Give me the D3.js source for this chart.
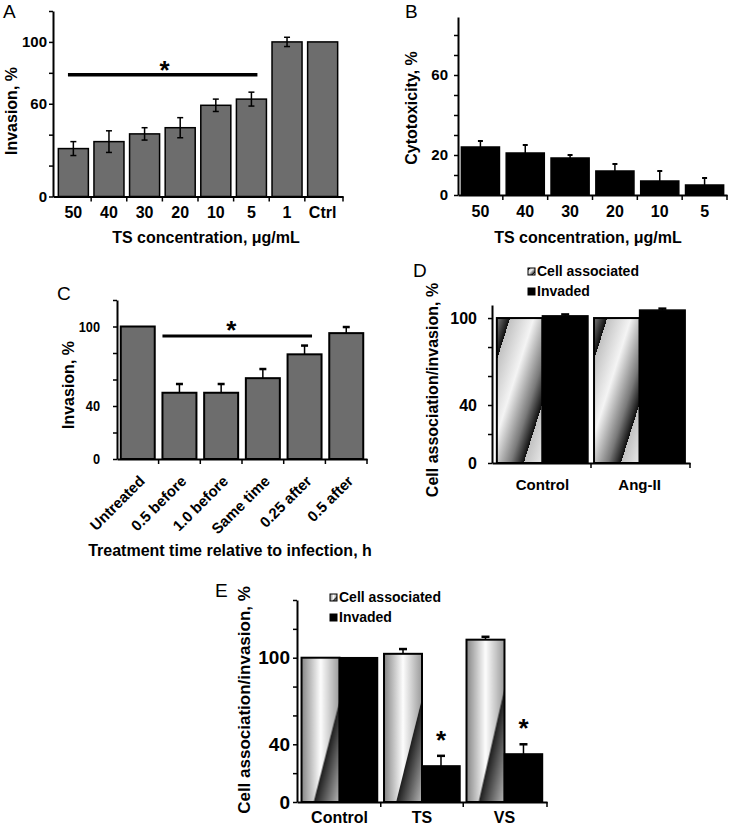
<!DOCTYPE html>
<html><head><meta charset="utf-8">
<script src="https://cdn.jsdelivr.net/npm/d3@7"></script>
<style>body{margin:0;background:#fff}</style>
</head><body>
<svg id="chart" width="735" height="830"></svg>
<script>
// ---------------- DATA ----------------
const aCats = ["50","40","30","20","10","5","1","Ctrl"];
const aVals = [31, 35.5, 40.5, 44.5, 59, 63, 100, 100];
const aErr  = [4.5, 7, 4, 6.5, 4, 4.5, 3, 0];
const aTicks = [0,20,40,60,80,100,120];
const aTickLabels = [0,60,100];
const aSig = {from:"50", to:"5", level:78.7};

const bCats = ["50","40","30","20","10","5"];
const bVals = [24, 21, 18.5, 12, 7, 5];
const bErr  = [3, 4, 1.5, 3.5, 5, 3.5];
const bTicks = [0,10,20,30,40,50,60,70,80];
const bTickLabels = [0,20,60];

const cCats = ["Untreated","0.5 before","1.0 before","Same time","0.25 after","0.5 after"];
const cVals = [100, 50, 50, 61, 79, 95];
const cErr  = [0, 6.6, 6.6, 6.9, 6.6, 4.6];
const cTicks = [0,20,40,60,80,100,120];
const cTickLabels = [0,40,100];
const cSig = {from:"0.5 before", to:"0.25 after", level:92.8};

const seriesNames = ["Cell associated","Invaded"];

const dCats = ["Control","Ang-II"];
const dCell = [100, 100];
const dCellErr = [0, 0];
const dInv  = [101.5, 105.5];
const dInvErr = [1, 1];
const dTicks = [0,20,40,60,80,100];
const dTickLabels = [0,40,100];

const eCats = ["Control","TS","VS"];
const eCell = [100, 102.7, 112.5];
const eCellErr = [0, 3.3, 2];
const eInv  = [100, 25, 33.3];
const eInvErr = [0, 7, 6.7];
const eTicks = [0,20,40,60,80,100,120,140];
const eTickLabels = [0,40,100];
const eSig = ["TS","VS"];

// ---------------- SETUP ----------------
const FONT = '"Liberation Sans", Arial, Helvetica, sans-serif';
const svg = d3.select("#chart");
svg.append("rect").attr("width",735).attr("height",830).attr("fill","#fff");
const defs = svg.append("defs");

// striped gradient for panel D
const gD = defs.append("linearGradient").attr("id","gD")
  .attr("x1",0.145).attr("y1",0.145).attr("x2",0.795).attr("y2",0.795)
  .attr("spreadMethod","repeat");
[[0,"#c2c2c2"],[0.4,"#f4f4f4"],[0.78,"#7a7a7a"],[1,"#0e0e0e"]]
  .forEach(([o,c]) => gD.append("stop").attr("offset",o).attr("stop-color",c));

// panel E pattern (horizontal gradient + diagonal dark wedge)
const eL = defs.append("linearGradient").attr("id","eL").attr("x1",0).attr("y1",0).attr("x2",1).attr("y2",0);
[[0,"#858585"],[0.5,"#fdfdfd"],[1,"#9a9a9a"]].forEach(([o,c]) => eL.append("stop").attr("offset",o).attr("stop-color",c));
const eR = defs.append("linearGradient").attr("id","eR").attr("x1",0.5).attr("y1",0.5).attr("x2",1).attr("y2",1);
[[0,"#1c1c1c"],[1,"#b8b8b8"]].forEach(([o,c]) => eR.append("stop").attr("offset",o).attr("stop-color",c));
const pE = defs.append("pattern").attr("id","pE").attr("patternUnits","objectBoundingBox")
  .attr("patternContentUnits","objectBoundingBox").attr("width",1).attr("height",1);
pE.append("polygon").attr("points","0,0 1,0 1,0.3 0.32,1 0,1").attr("fill","url(#eL)");
pE.append("polygon").attr("points","1,0.3 1,1 0.32,1").attr("fill","url(#eR)");

function txt(x, y, s, size, opts = {}) {
  const t = svg.append("text").attr("x",x).attr("y",y).text(s)
    .attr("font-family",FONT).attr("font-size",size)
    .attr("font-weight", opts.weight || "bold")
    .attr("text-anchor", opts.anchor || "middle").attr("fill","#000");
  if (opts.rotate) t.attr("transform",`rotate(${opts.rotate},${x},${y})`);
  return t;
}
function star(cx, cy) { // cy = visual centre of the asterisk
  return txt(cx, cy + 14, "*", 26);
}

function yAxis(y, x, ticks, labels, fs, pad, condense) {
  const g = svg.append("g").attr("transform",`translate(${x},0)`)
    .call(d3.axisLeft(y).tickValues(ticks).tickSize(4).tickSizeOuter(0).tickPadding(pad)
      .tickFormat(d => labels.includes(d) ? d : ""));
  g.attr("font-family",FONT).attr("font-size",fs).attr("font-weight","bold");
  g.select(".domain").attr("stroke","#000").attr("stroke-width",2);
  g.selectAll(".tick line").attr("stroke","#000").attr("stroke-width",1.5);
  g.selectAll(".tick text").attr("fill","#000");
  if (condense) g.selectAll(".tick text").each(function(){
    const L = this.getComputedTextLength();
    if (L > 0) d3.select(this).attr("textLength", L*condense).attr("lengthAdjust","spacingAndGlyphs");
  });
  return g;
}

function xAxis(xb, y0, fs, pad) {
  const g = svg.append("g").attr("transform",`translate(0,${y0})`)
    .call(d3.axisBottom(xb).tickSize(0).tickSizeOuter(0).tickPadding(pad));
  g.attr("font-family",FONT).attr("font-size",fs).attr("font-weight","bold");
  g.select(".domain").attr("stroke","#000").attr("stroke-width",2);
  g.selectAll(".tick text").attr("fill","#000");
  const gap = xb.step() - xb.bandwidth();
  const bounds = xb.domain().slice(1).map(c => xb(c) - gap/2).concat([xb.range()[1]]);
  g.selectAll(".btick").data(bounds).join("line").attr("class","btick")
    .attr("x1",d=>d).attr("x2",d=>d).attr("y1",0).attr("y2",5)
    .attr("stroke","#000").attr("stroke-width",1.5);
  return g;
}

function errBars(xs, vals, errs, y, cap, twoSided, sw) {
  vals.forEach((v,i) => {
    if (!errs[i]) return;
    const x = xs[i], top = y(v + errs[i]), bot = twoSided ? y(v - errs[i]) : y(v);
    svg.append("line").attr("x1",x).attr("x2",x).attr("y1",top).attr("y2",bot)
      .attr("stroke","#000").attr("stroke-width",1.5);
    svg.append("line").attr("x1",x-cap).attr("x2",x+cap).attr("y1",top).attr("y2",top)
      .attr("stroke","#000").attr("stroke-width",sw);
    if (twoSided) svg.append("line").attr("x1",x-cap).attr("x2",x+cap).attr("y1",bot).attr("y2",bot)
      .attr("stroke","#000").attr("stroke-width",sw);
  });
}

const GRAY = "#6d6d6d";

// ---------------- PANEL A ----------------
{
  const y = d3.scaleLinear([0,120],[196.5,11]);
  const x = d3.scaleBand(aCats,[53,343]).paddingInner(0.157).paddingOuter(0.15);
  svg.selectAll(".barA").data(aVals).join("rect").attr("class","barA")
    .attr("x",(d,i)=>x(aCats[i])).attr("width",x.bandwidth())
    .attr("y",d=>y(d)).attr("height",d=>y(0)-y(d))
    .attr("fill",GRAY).attr("stroke","#000").attr("stroke-width",1.5);
  errBars(aCats.map(c=>x(c)+x.bandwidth()/2), aVals, aErr, y, 3, true, 1.5);
  yAxis(y, 53, aTicks, aTickLabels, 15, 2);
  xAxis(x, y(0), 16, 10);
  const x1 = x(aSig.from) + x.bandwidth()*0.32, x2 = x(aSig.to) + x.bandwidth()*0.7;
  svg.append("line").attr("x1",x1).attr("x2",x2).attr("y1",y(aSig.level)).attr("y2",y(aSig.level))
    .attr("stroke","#000").attr("stroke-width",3.5);
  star((x1+x2)/2+2, y(aSig.level)-10);
  txt(3, 18, "A", 19, {anchor:"start", weight:"normal"});
  txt(17, 111, "Invasion, %", 16, {rotate:-90});
  txt(206, 243, "TS concentration, \u03bcg/mL", 16);
}

// ---------------- PANEL B ----------------
{
  const y = d3.scaleLinear([0,89],[195,17]);
  const x = d3.scaleBand(bCats,[458,727]).paddingInner(0.15).paddingOuter(0.075);
  svg.selectAll(".barB").data(bVals).join("rect").attr("class","barB")
    .attr("x",(d,i)=>x(bCats[i])).attr("width",x.bandwidth())
    .attr("y",d=>y(d)).attr("height",d=>y(0)-y(d))
    .attr("fill","#000").attr("stroke","#000").attr("stroke-width",1.5);
  errBars(bCats.map(c=>x(c)+x.bandwidth()/2), bVals, bErr, y, 2.5, false, 2);
  yAxis(y, 458, bTicks, bTickLabels, 15, 6);
  xAxis(x, y(0), 16, 10.5);
  txt(405, 18, "B", 19, {anchor:"start", weight:"normal"});
  txt(417, 108, "Cytotoxicity, %", 16, {rotate:-90});
  txt(588, 243, "TS concentration, \u03bcg/mL", 16);
}

// ---------------- PANEL C ----------------
{
  const y = d3.scaleLinear([0,120],[459,300]);
  const x = d3.scaleBand(cCats,[117,367]).paddingInner(0.185).paddingOuter(0.09);
  svg.selectAll(".barC").data(cVals).join("rect").attr("class","barC")
    .attr("x",(d,i)=>x(cCats[i])).attr("width",x.bandwidth())
    .attr("y",d=>y(d)).attr("height",d=>y(0)-y(d))
    .attr("fill",GRAY).attr("stroke","#000").attr("stroke-width",2);
  errBars(cCats.map(c=>x(c)+x.bandwidth()/2), cVals, cErr, y, 3.5, false, 2.5);
  yAxis(y, 117, cTicks, cTickLabels, 15, 13, 0.85);
  const g = xAxis(x, y(0), 15, 10);
  g.selectAll(".tick text").attr("x",0).attr("y",0).attr("dy",0)
    .attr("text-anchor","end").attr("transform","translate(8,23) rotate(-45)");
  const x1 = x(cSig.from), x2 = x(cSig.to) + x.bandwidth()*0.72;
  svg.append("line").attr("x1",x1).attr("x2",x2).attr("y1",y(cSig.level)).attr("y2",y(cSig.level))
    .attr("stroke","#000").attr("stroke-width",3);
  star((x1+x2)/2-6, y(cSig.level)-11);
  txt(57, 300, "C", 19, {anchor:"start", weight:"normal"});
  txt(74, 385, "Invasion, %", 16, {rotate:-90});
  txt(230, 556, "Treatment time relative to infection, h", 16);
}

// ---------------- grouped panels ----------------
function grouped(cats, cell, cellErr, inv, invErr, y, xr, pi, po, fill, cellStroke) {
  const x = d3.scaleBand(cats, xr).paddingInner(pi).paddingOuter(po);
  const xs = d3.scaleBand(seriesNames,[0,x.bandwidth()]);
  svg.selectAll(null).data(cell).join("rect")
    .attr("x",(d,i)=>x(cats[i])+xs(seriesNames[0])).attr("width",xs.bandwidth())
    .attr("y",d=>y(d)).attr("height",d=>y(0)-y(d))
    .attr("fill",fill).attr("stroke","#000").attr("stroke-width",cellStroke);
  svg.selectAll(null).data(inv).join("rect")
    .attr("x",(d,i)=>x(cats[i])+xs(seriesNames[1])).attr("width",xs.bandwidth())
    .attr("y",d=>y(d)).attr("height",d=>y(0)-y(d))
    .attr("fill","#000").attr("stroke","#000").attr("stroke-width",1.5);
  errBars(cats.map(c=>x(c)+xs(seriesNames[0])+xs.bandwidth()/2), cell, cellErr, y, 4, false, 2.5);
  errBars(cats.map(c=>x(c)+xs(seriesNames[1])+xs.bandwidth()/2), inv, invErr, y, 4, false, 2.5);
  return {x, xs};
}

function legend(x0, y0, fill, fs, dy) {
  seriesNames.forEach((s,i) => {
    svg.append("rect").attr("x",x0).attr("y",y0 + i*dy - 8).attr("width",7).attr("height",7)
      .attr("fill", i===0 ? fill : "#000").attr("stroke","#000").attr("stroke-width",1);
    txt(x0+9, y0 + i*dy, s, fs, {anchor:"start"});
  });
}

// ---------------- PANEL D ----------------
{
  const y = d3.scaleLinear([0,109],[463,305]);
  const {x} = grouped(dCats, dCell, dCellErr, dInv, dInvErr, y, [492,690], 0.0625, 0.05, "url(#gD)", 2);
  yAxis(y, 492, dTicks, dTickLabels, 16, 11);
  xAxis(x, y(0), 15, 16);
  legend(528, 276, "url(#gD)", 14, 20);
  txt(413, 277, "D", 19, {anchor:"start", weight:"normal"});
  txt(438, 390, "Cell association/invasion, %", 16, {rotate:-90});
}

// ---------------- PANEL E ----------------
{
  const y = d3.scaleLinear([0,140],[802,600]);
  const {x, xs} = grouped(eCats, eCell, eCellErr, eInv, eInvErr, y, [297,547], 0.079, 0.055, "url(#pE)", 2);
  yAxis(y, 297, eTicks, eTickLabels, 19, 3);
  xAxis(x, y(0), 16, 10);
  eSig.forEach(c => {
    const i = eCats.indexOf(c);
    const cx = x(c) + xs(seriesNames[1]) + xs.bandwidth()/2;
    star(cx, y(eInv[i] + eInvErr[i]) - 21);
  });
  legend(330, 602, "url(#pE)", 14, 20);
  txt(215, 597, "E", 19, {anchor:"start", weight:"normal"});
  txt(250, 700, "Cell association/invasion, %", 17, {rotate:-90});
}
</script>
</body></html>
